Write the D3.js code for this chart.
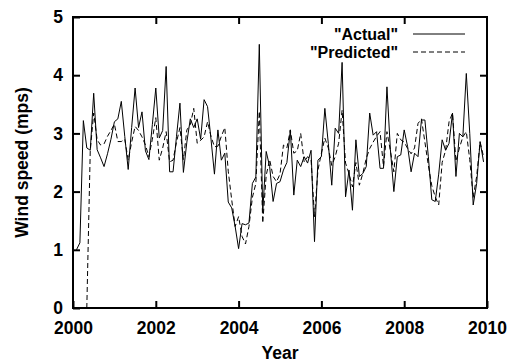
<!DOCTYPE html>
<html>
<head>
<meta charset="utf-8">
<script src="https://cdn.jsdelivr.net/npm/d3@7/dist/d3.min.js"></script>
<style>
  body { margin: 0; background: #fff; }
  svg text { font-family: "Liberation Sans", Arial, Helvetica, sans-serif; font-weight: bold; fill: #000; }
</style>
</head>
<body>
<div id="chart"></div>
<script>
// monthly wind speed, first value is Feb 2000 (x = 2000 + n/12)
const actual = [
  1.00, 1.12, 3.22, 2.75, 2.71, 3.69, 2.72, 2.58, 2.43, 2.65, 2.90, 3.20,
  3.25, 3.55, 2.95, 2.38, 3.10, 3.78, 3.10, 3.37, 2.70, 2.55, 3.15, 3.78,
  2.92, 3.05, 4.15, 2.34, 2.34, 2.95, 3.52, 2.33, 2.85, 3.25, 3.10, 3.25,
  2.90, 3.58, 3.46, 2.90, 2.30, 3.06, 2.54, 2.66, 1.82, 1.72, 1.40, 1.02,
  1.45, 1.43, 1.46, 2.14, 2.25, 4.53, 1.65, 2.69, 2.43, 1.83, 2.14, 2.17,
  2.37, 2.50, 3.06, 1.94, 2.54, 2.43, 2.60, 2.49, 2.71, 1.14, 2.54, 2.60,
  3.43, 2.83, 2.11, 3.09, 3.00, 4.22, 1.91, 2.37, 1.68, 2.89, 2.26, 2.31,
  2.43, 3.35, 2.97, 3.03, 2.40, 2.40, 3.80, 2.72, 2.00, 2.60, 2.63, 3.06,
  2.77, 2.34, 2.66, 2.60, 3.23, 3.23, 2.60, 1.86, 1.83, 2.30, 2.89, 2.71,
  2.83, 3.35, 2.26, 3.00, 2.94, 4.03, 3.00, 1.77, 2.14, 2.86, 2.51
];

// predicted series starts 3 months after the actual one
const predictedOffset = 3;
const predicted = [
  0.00, 2.70, 3.35, 2.89, 2.80, 2.82, 2.95, 3.05, 3.16,
  2.86, 2.86, 2.90, 2.54, 2.85, 3.12, 3.05, 2.94, 2.80, 2.60, 2.90, 3.27,
  2.54, 2.75, 3.03, 2.51, 2.54, 2.85, 3.10, 2.55, 3.06, 3.15, 3.43, 2.83,
  2.88, 2.94, 3.20, 2.95, 2.77, 2.78, 2.95, 3.10, 2.35, 1.86, 1.40, 1.57,
  1.23, 1.10, 1.40, 1.90, 2.14, 3.38, 1.46, 2.28, 2.55, 2.26, 2.17, 2.30,
  2.80, 2.75, 3.06, 2.66, 2.70, 3.00, 2.51, 2.60, 2.55, 1.57, 2.37, 2.66,
  2.92, 2.75, 2.45, 2.60, 2.83, 3.40, 2.49, 2.31, 2.08, 2.50, 2.11, 2.31,
  2.57, 2.74, 2.85, 2.95, 3.03, 2.43, 3.03, 2.70, 2.34, 3.00, 2.89, 2.85,
  2.74, 2.65, 2.75, 3.17, 3.25, 2.85, 2.45, 2.10, 1.91, 1.77, 2.50, 2.71,
  3.20, 3.35, 2.52, 2.75, 2.94, 3.03, 2.55, 1.90, 2.26, 2.85, 2.60
];

const xTicks = [2000, 2002, 2004, 2006, 2008, 2010];
const yTicks = [0, 1, 2, 3, 4, 5];
const seriesNames = ['"Actual"', '"Predicted"'];

const width = 507;
const height = 363;
const margin = { top: 17, right: 20, bottom: 55, left: 73 };
const fontSize = 17.5;
const legendFont = 16;

const x = d3.scaleLinear().domain([2000, 2010]).range([margin.left, width - margin.right]);
const y = d3.scaleLinear().domain([0, 5]).range([height - margin.bottom, margin.top]);

const svg = d3.select('#chart')
  .append('svg')
  .attr('width', width)
  .attr('height', height);

svg.append('clipPath')
  .attr('id', 'plot-clip')
  .append('rect')
  .attr('x', margin.left)
  .attr('y', margin.top)
  .attr('width', x(2010) - x(2000))
  .attr('height', y(0) - y(5));

const actualPts = actual.map((v, i) => [2000 + (i + 1) / 12, v]);
const predictedPts = predicted.map((v, i) => [2000 + (i + 1 + predictedOffset) / 12, v]);

const line = d3.line().x(d => x(d[0])).y(d => y(d[1]));

const plot = svg.append('g').attr('clip-path', 'url(#plot-clip)');

plot.append('path')
  .datum(actualPts)
  .attr('fill', 'none')
  .attr('stroke', '#000')
  .attr('stroke-width', 1)
  .attr('d', line);

plot.append('path')
  .datum(predictedPts)
  .attr('fill', 'none')
  .attr('stroke', '#000')
  .attr('stroke-width', 1)
  .attr('stroke-dasharray', '5,3')
  .attr('d', line);

// axes, ticks point inward (gnuplot style)
const tickLen = 7;

const styleAxis = g => {
  g.select('.domain').remove();
  g.selectAll('.tick line').attr('stroke', '#000').attr('stroke-width', 2);
  g.selectAll('.tick text').style('font-size', fontSize + 'px');
};

svg.append('g')
  .attr('transform', `translate(0,${y(0)})`)
  .call(d3.axisBottom(x).tickValues(xTicks).tickFormat(d3.format('d')).tickSize(-tickLen).tickPadding(13.5))
  .call(styleAxis);

svg.append('g')
  .attr('transform', `translate(0,${y(5)})`)
  .call(d3.axisTop(x).tickValues(xTicks.slice(1, -1)).tickFormat('').tickSize(-tickLen))
  .call(styleAxis);

svg.append('g')
  .attr('transform', `translate(${x(2000)},0)`)
  .call(d3.axisLeft(y).tickValues(yTicks).tickFormat(d3.format('d')).tickSize(-tickLen).tickPadding(10))
  .call(styleAxis);

svg.append('g')
  .attr('transform', `translate(${x(2010)},0)`)
  .call(d3.axisRight(y).tickValues(yTicks.slice(1, -1)).tickFormat('').tickSize(-tickLen))
  .call(styleAxis);

// border
svg.append('rect')
  .attr('x', x(2000))
  .attr('y', y(5))
  .attr('width', x(2010) - x(2000))
  .attr('height', y(0) - y(5))
  .attr('fill', 'none')
  .attr('stroke', '#000')
  .attr('stroke-width', 2);

// axis titles
svg.append('text')
  .attr('x', (x(2000) + x(2010)) / 2)
  .attr('y', 359)
  .attr('text-anchor', 'middle')
  .style('font-size', fontSize + 'px')
  .text('Year');

svg.append('text')
  .attr('transform', `translate(28,${(y(0) + y(5)) / 2}) rotate(-90)`)
  .attr('text-anchor', 'middle')
  .style('font-size', fontSize + 'px')
  .text('Wind speed (mps)');

// legend
const legend = svg.append('g');
seriesNames.forEach((name, i) => {
  const ly = 34 + i * 18;
  legend.append('text')
    .attr('x', 398)
    .attr('y', ly)
    .attr('dy', '0.35em')
    .attr('text-anchor', 'end')
    .style('font-size', legendFont + 'px')
    .text(name);
  legend.append('line')
    .attr('x1', 413)
    .attr('x2', 465)
    .attr('y1', ly)
    .attr('y2', ly)
    .attr('stroke', '#000')
    .attr('stroke-width', 1)
    .attr('stroke-dasharray', i === 1 ? '5,3' : null);
});
</script>
</body>
</html>
